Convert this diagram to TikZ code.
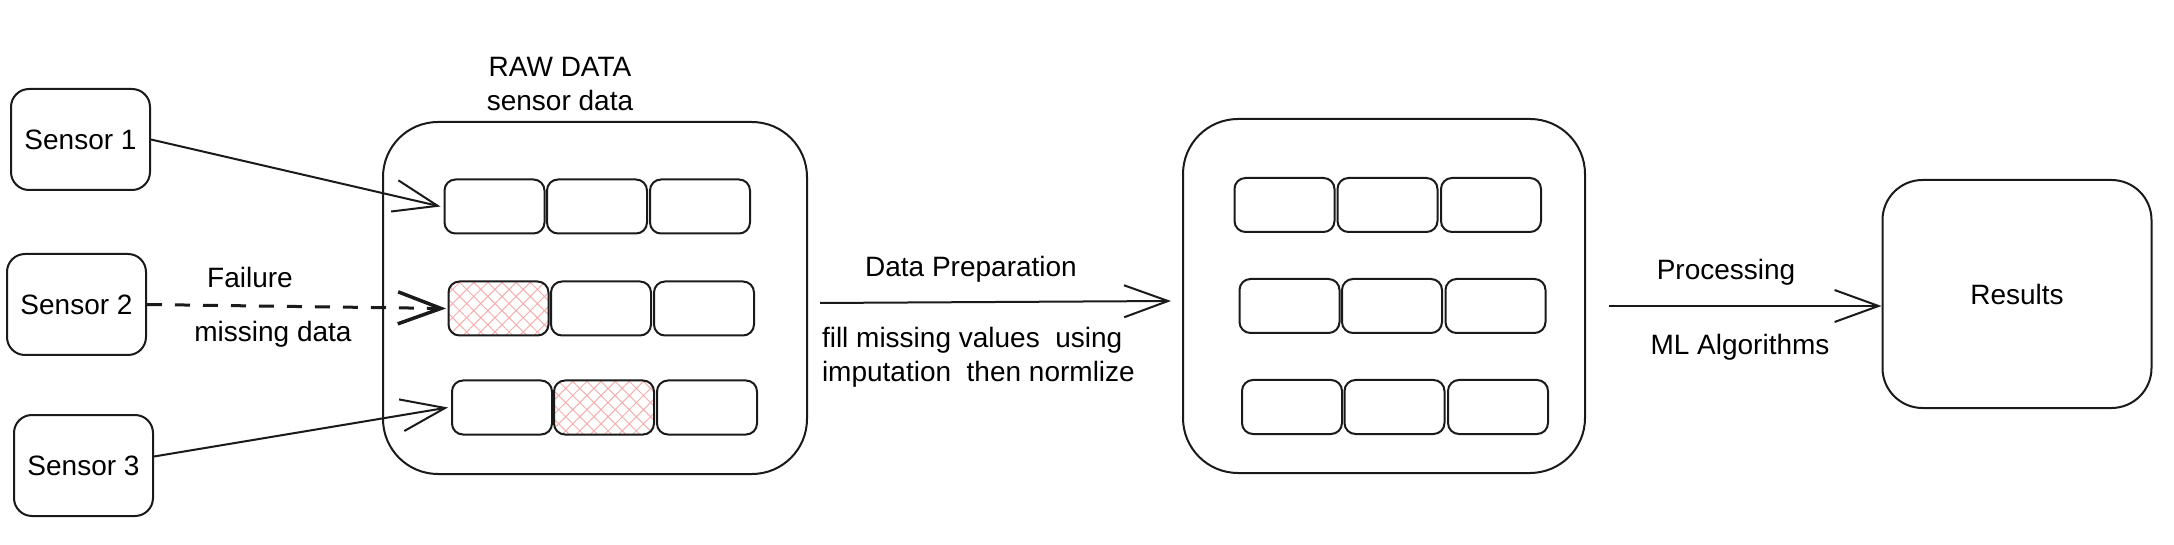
\documentclass[tikz,border=0pt]{standalone}
\usepackage{fontspec}
\setmainfont{Liberation Sans}
\usetikzlibrary{arrows.meta,patterns.meta,calc}
\tikzset{
  box/.style={draw=drawColor,line width=2pt,rounded corners=18pt,inner sep=0pt,
    minimum width=139pt,minimum height=101pt,font=\fontsize{28}{34}\selectfont},
  frame/.style={draw=drawColor,line width=2pt,rounded corners=55pt,inner sep=0pt},
  cell/.style={draw=drawColor,line width=2pt,rounded corners=11pt,inner sep=0pt,
    minimum width=100pt,minimum height=54pt},
  gap/.style={cell,pattern={Hatch[angle=45,distance=10pt,line width=1pt]},pattern color=hatchColor},
  txt/.style={inner sep=0pt,outer sep=0pt,font=\fontsize{28}{34}\selectfont},
  flow/.style={draw=drawColor,line width=2pt,-{Straight Barb[length=44pt,width=32pt,line width=2pt]}},
  lost/.style={draw=drawColor,line width=3pt,dash pattern=on 15pt off 13pt,
    -{Straight Barb[length=43pt,width=32pt,line width=3.5pt]}}
}
\begin{document}
\begin{tikzpicture}[x=1pt,y=1pt]
\definecolor{fillColor}{RGB}{255,255,255}
\definecolor{drawColor}{RGB}{26,26,26}
\definecolor{hatchColor}{RGB}{245,175,175}
\path[use as bounding box,fill=fillColor] (0,0) rectangle (2174,544);

% sensors
\node[box] (s1) at ( 80.5,404.5) {Sensor 1};
\node[box] (s2) at ( 76.5,239.5) {Sensor 2};
\node[box] (s3) at ( 83.5, 78.5) {Sensor 3};

% raw data block
\node[frame,minimum width=424pt,minimum height=352pt] (raw) at (595,246) {};
\node[txt] (rawtitle) at (560,477) {RAW DATA};
\node[txt] (rawsub) at (560,444) {sensor data};

\node[cell] (r1c1) at (494.5,337.5) {};
\node[cell] (r1c2) at (597.0,337.5) {};
\node[cell] (r1c3) at (700.0,337.5) {};

\node[gap]  (r2c1) at (498.5,235.5) {};
\node[cell] (r2c2) at (601.0,235.5) {};
\node[cell] (r2c3) at (704.0,235.5) {};

\node[cell] (r3c1) at (502.0,136.5) {};
\node[gap]  (r3c2) at (604.0,136.5) {};
\node[cell] (r3c3) at (707.0,136.5) {};

% prepared data block
\node[frame,minimum width=402pt,minimum height=354pt] (prep) at (1384,248) {};

\node[cell] (p1c1) at (1284.5,339) {};
\node[cell] (p1c2) at (1387.5,339) {};
\node[cell] (p1c3) at (1491.0,339) {};

\node[cell] (p2c1) at (1289.5,238) {};
\node[cell] (p2c2) at (1392.0,238) {};
\node[cell] (p2c3) at (1495.5,238) {};

\node[cell] (p3c1) at (1292.0,137) {};
\node[cell] (p3c2) at (1394.5,137) {};
\node[cell] (p3c3) at (1498.0,137) {};

% results
\node[frame,rounded corners=40pt,minimum width=269pt,minimum height=228pt,font=\fontsize{28}{34}\selectfont] (res) at (2017,250) {Results};

% connectors
\path[flow] (s1.east) -- ([xshift=-3pt]r1c1.west);
\path[lost] (s2.east) -- ([xshift=-2pt]r2c1.west);
\path[flow] ([yshift=9pt]s3.east) -- ([xshift=-3pt]r3c1.west);
\node[txt] (fail) at (250,267) {Failure};
\node[txt] (miss) at (273,210) {missing data};

\path[flow] ([xshift=12pt,yshift=-5pt]raw.east) -- ([xshift=-11pt,yshift=-5pt]prep.west);
\node[txt] (preplbl) at (971,275) {Data Preparation};
\node[txt,anchor=west,align=left] (prepnote) at (822,186.5) {fill missing values\ \ using\\imputation\ \ then normlize};

\path[flow] ([xshift=23pt,yshift=-10pt]prep.east) -- ([yshift=-12pt]res.west);
\node[txt] (proc) at (1726,272) {Processing};
\node[txt] (ml) at (1740,197) {ML Algorithms};
\end{tikzpicture}
\end{document}
